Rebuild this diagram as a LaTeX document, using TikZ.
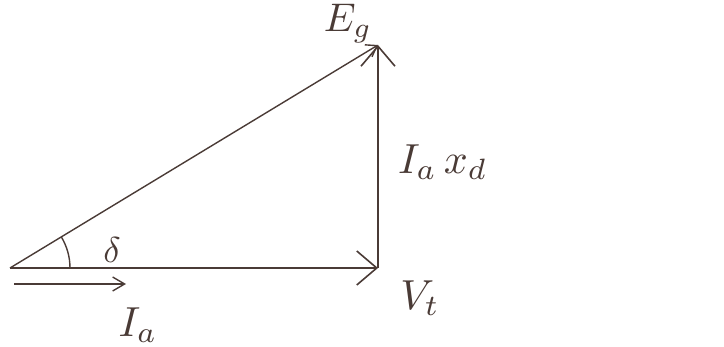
\documentclass[tikz,border=0pt]{standalone}
\usetikzlibrary{arrows.meta}
\definecolor{ink}{HTML}{4A3B36}
\begin{document}
\begin{tikzpicture}[x=1pt,y=-1pt,
  phasor/.style={draw=ink,line width=1.6pt,-{Straight Barb[length=20pt,width=34pt,line width=1.6pt]}},
  small/.style={draw=ink,line width=1.4pt,-{Straight Barb[length=12pt,width=14pt,line width=1.4pt]}},
  lbl/.style={text=ink,inner sep=0pt}]
\useasboundingbox (0,0) rectangle (724,347);
\coordinate (O) at (10,268);
\coordinate (V) at (378,268);
\coordinate (E) at (378,45);
\coordinate (A1) at (14,284);
\coordinate (A2) at (126,284);
\draw[phasor] (O) -- (V);
\draw[phasor] (V) -- (E);
\draw[draw=ink,line width=1.4pt,-{Straight Barb[length=10pt,width=14pt,line width=1.4pt]}] (O) -- (E);
\draw[small] (A1) -- (A2);
\draw[ink,line width=1.4pt] (O) ++(0:60) arc[start angle=0,end angle=-31.2,radius=60];
\node[lbl] (Eg) at (348,24) {\scalebox{4}{$E_g$}};
\node[lbl] (d) at (112,250) {\scalebox{3.6}{$\delta$}};
\node[lbl,anchor=west] (Ix) at (398,162) {\scalebox{4.2}{$I_a\,x_d$}};
\node[lbl] (Vt) at (420,298) {\scalebox{4.2}{$V_t$}};
\node[lbl] (Ia) at (138,325) {\scalebox{4.2}{$I_a$}};
\end{tikzpicture}
\end{document}
